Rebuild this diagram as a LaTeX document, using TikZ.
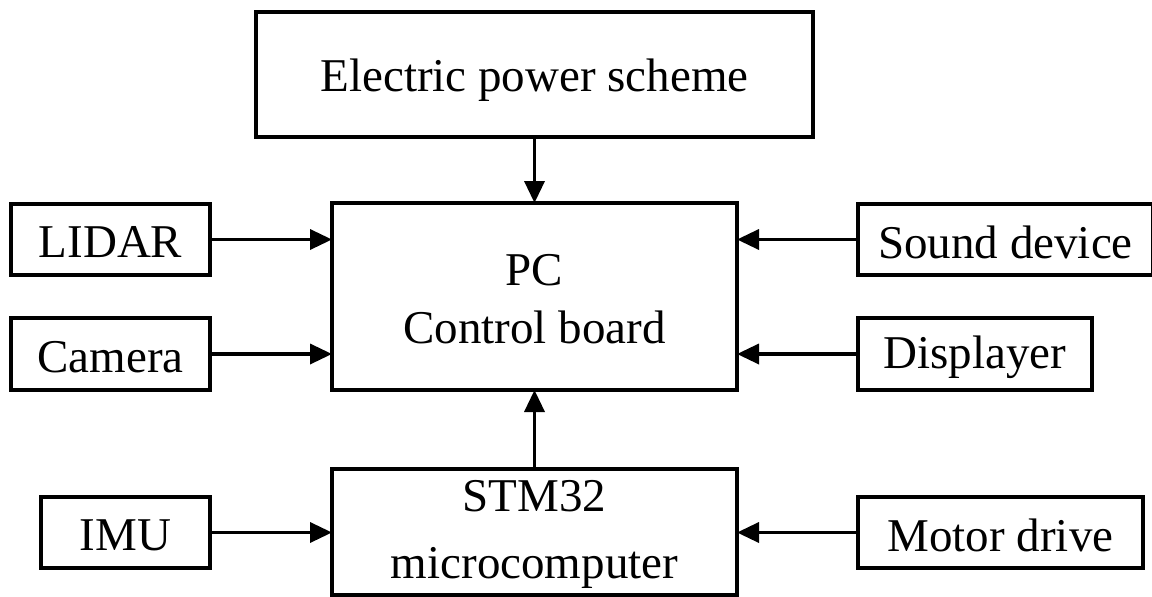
\documentclass[tikz,border=0pt]{standalone}
\usepackage{fontspec}
\setmainfont{Liberation Serif}
\usetikzlibrary{arrows.meta}
\newcommand{\lowr}[2]{\raisebox{-#1}[\height][\depth]{#2}}
\begin{document}
\begin{tikzpicture}[x=1pt,y=-1pt,
  box/.style={draw, line width=3.5pt, inner sep=0pt, outer sep=0pt, align=center, font=\fontsize{47}{58}\selectfont},
  arr/.style={line width=3.5pt, -{Triangle[length=22pt,width=20pt]}}]
\useasboundingbox (0,0) rectangle (1152,597);
\node[box, minimum width=557pt, minimum height=125pt] (elec) at (534.5,74.5) {\lowr{6pt}{Electric power scheme}};
\node[box, minimum width=405pt, minimum height=187pt] (pc) at (534.5,296.5) {\lowr{3pt}{PC}\\\lowr{3pt}{Control board}};
\node[box, minimum width=405pt, minimum height=126pt, font=\fontsize{47}{67}\selectfont] (stm) at (534.5,532) {\lowr{2pt}{STM32}\\\lowr{2pt}{microcomputer}};
\node[box, minimum width=199pt, minimum height=71pt] (lidar) at (110.5,239.5) {\lowr{3pt}{LIDAR}};
\node[box, minimum width=199pt, minimum height=72pt] (camera) at (110.5,354) {\lowr{3pt}{Camera}};
\node[box, minimum width=169pt, minimum height=71pt] (imu) at (125.5,532.5) {\lowr{3pt}{IMU}};
\node[box, minimum width=295pt, minimum height=71pt] (sound) at (1005.5,239.5) {\lowr{3pt}{Sound device}};
\node[box, minimum width=234pt, minimum height=72pt] (disp) at (975,354) {\lowr{3pt}{Displayer}};
\node[box, minimum width=285pt, minimum height=71pt] (motor) at (1000.5,532.5) {\lowr{3pt}{Motor drive}};
\draw[arr] (elec.south) -- (pc.north);
\draw[arr] (stm.north) -- (pc.south);
\draw[arr] (lidar.east) -- (lidar.east -| pc.west);
\draw[arr] (camera.east) -- (camera.east -| pc.west);
\draw[arr] (imu.east) -- (imu.east -| stm.west);
\draw[arr] (sound.west) -- (sound.west -| pc.east);
\draw[arr] (disp.west) -- (disp.west -| pc.east);
\draw[arr] (motor.west) -- (motor.west -| stm.east);
\end{tikzpicture}
\end{document}
